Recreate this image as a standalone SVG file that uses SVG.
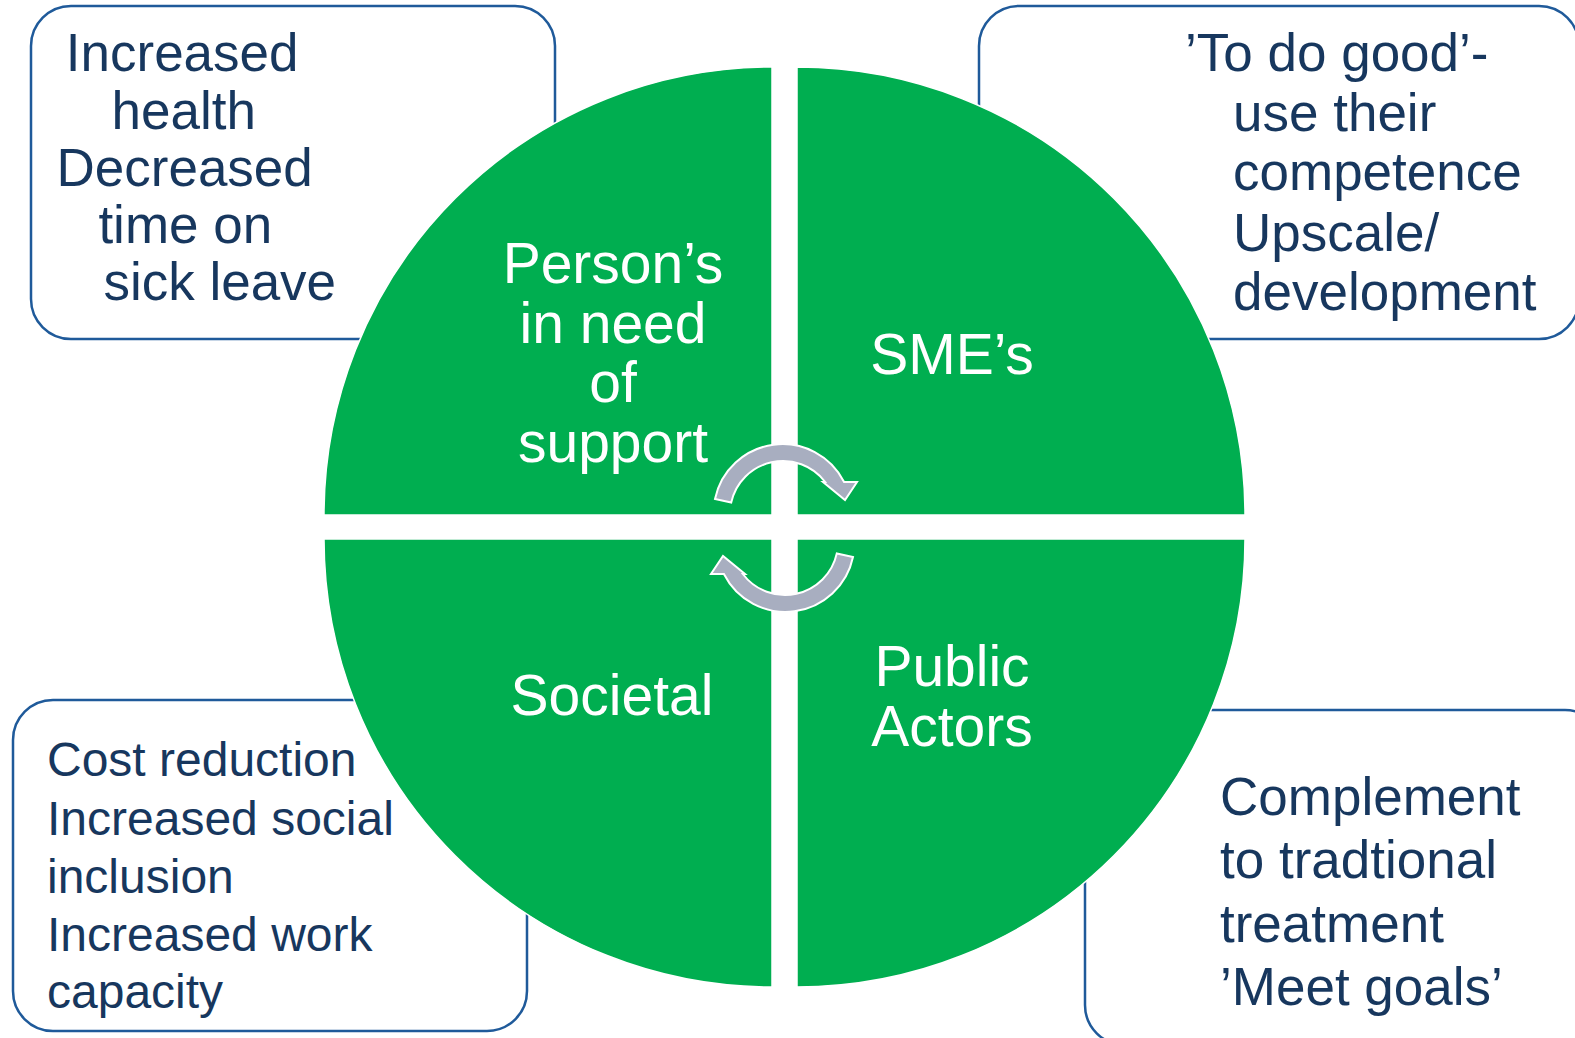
<svg xmlns="http://www.w3.org/2000/svg" width="1575" height="1038" viewBox="0 0 1575 1038">
  <style>
    .box { fill: #ffffff; stroke: #1F5A9A; stroke-width: 2.5; }
    .quad { fill: #00AE50; stroke: #ffffff; stroke-width: 1.5; }
    .cycle { fill: #A8AEC0; stroke: #ffffff; stroke-width: 2; stroke-linejoin: miter; }
    .note { font-family: "Liberation Sans", Arial, sans-serif; fill: #17375E; }
    .label { font-family: "Liberation Sans", Arial, sans-serif; fill: #ffffff; font-size: 57px; text-anchor: middle; }
  </style>
  <defs>
    <!-- curved cycle arrow, clockwise over the top -->
    <path id="cycleArrow" d="M 715,499 A 69 69 0 0 1 844.1,482 L 857,482 L 845,500 L 823,482 L 825.2,482 A 53 53 0 0 0 731.2,502.6 Z"/>
  </defs>

  <rect width="1575" height="1038" fill="#ffffff"/>

  <!-- outcome boxes -->
  <g id="box-person-outcomes">
    <rect class="box" x="31" y="6" width="524" height="333" rx="40" ry="40"/>
    <text class="note" font-size="53">
      <tspan x="65.8" y="71">Increased</tspan>
      <tspan x="111.5" y="129">health</tspan>
      <tspan x="56.5" y="186">Decreased</tspan>
      <tspan x="98.4" y="243">time on</tspan>
      <tspan x="103.4" y="300">sick leave</tspan>
    </text>
  </g>

  <g id="box-sme-outcomes">
    <rect class="box" x="979" y="6" width="600" height="333" rx="40" ry="40"/>
    <text class="note" font-size="53">
      <tspan x="1185" y="71">’To do good’-</tspan>
      <tspan x="1233" y="131">use their</tspan>
      <tspan x="1233" y="190">competence</tspan>
      <tspan x="1233" y="251">Upscale/</tspan>
      <tspan x="1233" y="310">development</tspan>
    </text>
  </g>

  <g id="box-societal-outcomes">
    <rect class="box" x="13" y="700" width="514" height="331" rx="40" ry="40"/>
    <text class="note" font-size="48">
      <tspan x="47" y="776">Cost reduction</tspan>
      <tspan x="47" y="835">Increased social</tspan>
      <tspan x="47" y="893">inclusion</tspan>
      <tspan x="47" y="951">Increased work</tspan>
      <tspan x="47" y="1008">capacity</tspan>
    </text>
  </g>

  <g id="box-public-outcomes">
    <rect class="box" x="1085" y="710" width="520" height="335" rx="40" ry="40"/>
    <text class="note" font-size="53">
      <tspan x="1220" y="815">Complement</tspan>
      <tspan x="1220" y="878">to tradtional</tspan>
      <tspan x="1220" y="942">treatment</tspan>
      <tspan x="1220" y="1005">’Meet goals’</tspan>
    </text>
  </g>

  <!-- the four stakeholder quadrants -->
  <g id="quad-persons">
    <path class="quad" d="M772,515 L324,515 A448 448 0 0 1 772,67 Z"/>
    <text class="label" x="613" y="283">Person’s</text>
    <text class="label" x="613" y="342.5">in need</text>
    <text class="label" x="613" y="402">of</text>
    <text class="label" x="613" y="461.5">support</text>
  </g>

  <g id="quad-smes">
    <path class="quad" d="M797,515 L797,67 A448 448 0 0 1 1245,515 Z"/>
    <text class="label" x="952" y="374">SME’s</text>
  </g>

  <g id="quad-public">
    <path class="quad" d="M797,539 L1245,539 A448 448 0 0 1 797,987 Z"/>
    <text class="label" x="952" y="686">Public</text>
    <text class="label" x="952" y="746">Actors</text>
  </g>

  <g id="quad-societal">
    <path class="quad" d="M772,539 L772,987 A448 448 0 0 1 324,539 Z"/>
    <text class="label" x="612" y="715">Societal</text>
  </g>

  <!-- cycle arrows at the centre -->
  <g id="connectors">
    <use href="#cycleArrow" class="cycle"/>
    <use href="#cycleArrow" class="cycle" transform="rotate(180 784 528)"/>
  </g>
</svg>
